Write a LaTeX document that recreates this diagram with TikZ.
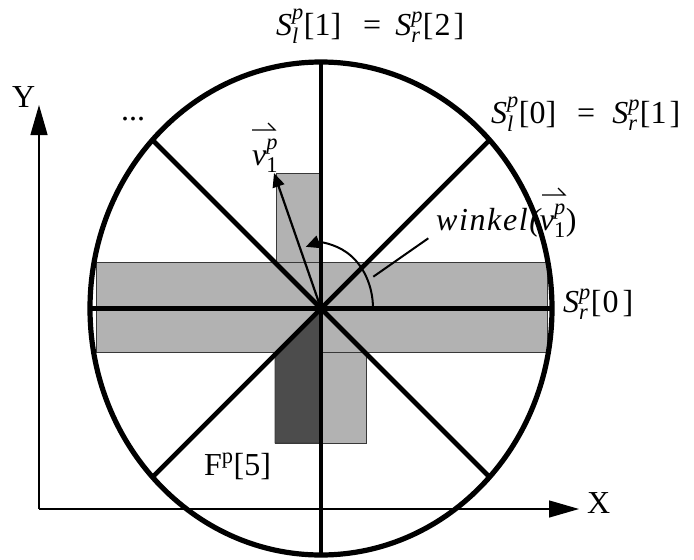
\RequirePackage{fix-cm}
\documentclass[tikz,border=0pt]{standalone}
\usepackage{amsmath}
\usepackage{fontspec}
\setmainfont{Liberation Serif}
\usetikzlibrary{arrows.meta}
\newcommand\ti[1]{\text{\itshape #1}}
\newcommand\tu[1]{\text{#1}}
\definecolor{barlight}{gray}{0.70}
\definecolor{bardark}{gray}{0.30}
\definecolor{baredge}{gray}{0.22}
\begin{document}
\begin{tikzpicture}[x=1pt,y=-1pt,
  lbl/.style={inner sep=0pt, font=\fontsize{32}{38}\selectfont},
  bar/.style={fill=barlight, draw=baredge, line width=0.9pt},
  darkbar/.style={fill=bardark, draw=baredge, line width=0.9pt},
  sector/.style={line width=4.6pt},
  rim/.style={line width=5.2pt},
  axis/.style={line width=1.3pt, -{Triangle[length=30pt,width=17pt]}},
  vecline/.style={line width=2.2pt, -{Triangle[length=14pt,width=12pt]}},
  harp/.style={line width=1.1pt},
]
\useasboundingbox (0,0) rectangle (694,560);
\coordinate (C) at (321,308.5);
% gray bars
\draw[bar] (276,173) rectangle (321,309);
\draw[bar] (275,309) rectangle (366,443);
\draw[bar] (96,262) rectangle (547,352);
\draw[darkbar] (C) -- (275,354.5) -- (275,443) -- (321,443) -- cycle;
% circle and sector lines
\draw[rim] (C) ellipse [x radius=231pt, y radius=246.5pt];
\coordinate (Nt) at (321,62);
\coordinate (Sb) at (321,555);
\coordinate (Wl) at (90,308.5);
\coordinate (Er) at (552,308.5);
\coordinate (NE) at (489.5,140);
\coordinate (SW) at (152.5,477);
\coordinate (NW) at (152.5,140);
\coordinate (SE) at (489.5,477);
\draw[sector] (Nt) -- (Sb);
\draw[sector] (Wl) -- (Er);
\draw[sector] (NE) -- (SW);
\draw[sector] (NW) -- (SE);
% vector and angle
\coordinate (V1) at (274,173);
\draw[vecline] (C) -- (V1);
\draw[line width=2pt, -{Triangle[length=14pt,width=13pt]}] (C) ++(52pt,0pt) arc[start angle=0, end angle=107, x radius=52pt, y radius=64.5pt];
\coordinate (P1) at (373.3,276.7);
\coordinate (P2) at (428.3,238.3);
\draw[line width=2pt] (P1) -- (P2);
% axes
\coordinate (O) at (39,509);
\coordinate (Ytip) at (39,105);
\coordinate (Xtip) at (579,509);
\draw[axis] (O) -- (Ytip);
\draw[axis] (O) -- (Xtip);
% labels
\node[lbl, anchor=base west] (top) at (276,35) {$\ti{S}^{\ti{p}}_{\ti{l}}\tu{[1]}\kern22pt\tu{=}\kern14pt\ti{S}^{\ti{p}}_{\ti{r}}\tu{[\kern1pt 2\kern3pt]}$};
\node[lbl, anchor=base west] (right) at (491,123) {$\ti{S}^{\ti{p}}_{\ti{l}}\tu{[0]}\kern21pt\tu{=}\kern17pt\ti{S}^{\ti{p}}_{\ti{r}}\tu{[1\kern3pt]}$};
\node[lbl, anchor=base west] (sr0) at (563,312) {$\ti{S}^{\ti{p}}_{\ti{r}}\tu{[\kern1pt 0\kern4pt]}$};
\node[lbl, anchor=base west] (dots) at (121,120) {...};
\node[lbl, anchor=base west] (ylab) at (12,107) {Y};
\node[lbl, anchor=base west] (xlab) at (587,513) {X};
\node[lbl, anchor=base west] (flab) at (204,475) {F\textsuperscript{p}[5]};
\node[lbl, anchor=base west] (vlab) at (252,165) {$\ti{v}^{\ti{p}}_{\tu{1}}$};
\node[lbl, anchor=base west] (wlab) at (436,230) {{\itshape\addfontfeature{LetterSpace=5}winkel(}$\ti{v}^{\ti{p}}_{\tu{1}}$)};
% vector harpoons over v
\draw[harp] ([shift={(0,-35)}]vlab.base west) -- ++(23,0) -- ++(-7,-7);
\coordinate (wv) at (542,230);
\draw[harp] ([shift={(0,-35)}]wv) -- ++(23,0) -- ++(-7,-7);
\end{tikzpicture}
\end{document}
